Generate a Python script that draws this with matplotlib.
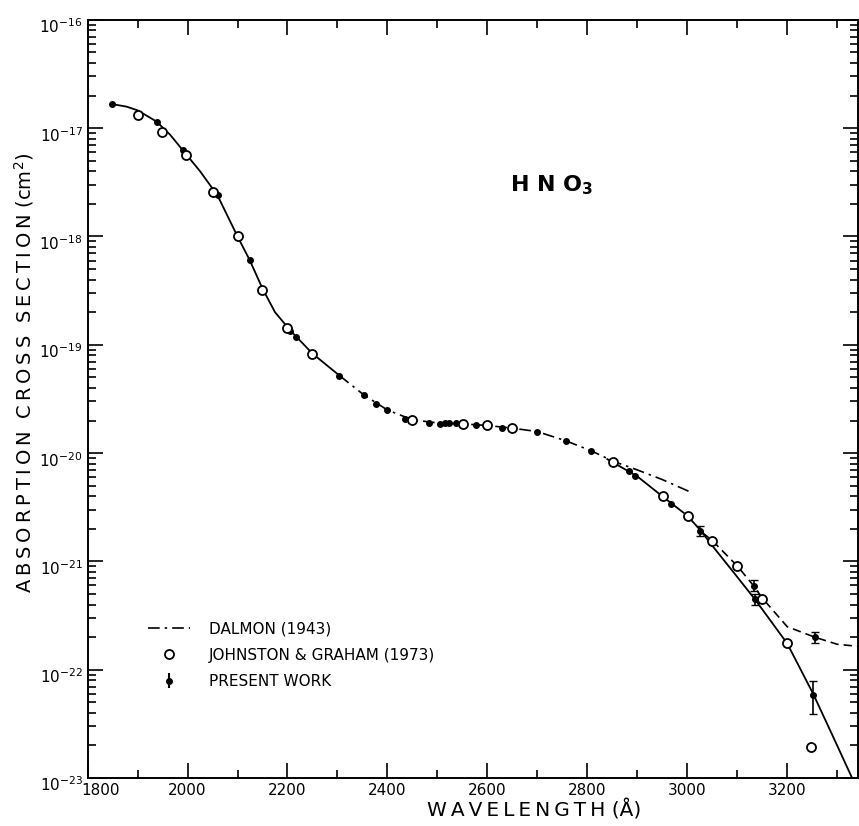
import numpy as np
import matplotlib
matplotlib.use("Agg")
import matplotlib.pyplot as plt
from matplotlib.lines import Line2D
from matplotlib.ticker import MultipleLocator, LogLocator, NullFormatter
from matplotlib.transforms import ScaledTranslation

plt.rcParams["font.family"] = ["DejaVu Sans"]
plt.rcParams["mathtext.default"] = "regular"

# fitted curve through present work (solid), two pieces
fit1_wl = [1848, 1878, 1900, 1938, 1965, 1990, 2025, 2060, 2100, 2124, 2150, 2175, 2206, 2250, 2304]
fit1_xs = [1.67e-17, 1.58e-17, 1.46e-17, 1.15e-17, 8.7e-18, 6.3e-18, 4.0e-18, 2.39e-18, 1.0e-18,
           6.1e-19, 3.3e-19, 2.0e-19, 1.35e-19, 8.3e-20, 5.2e-20]
fit2_wl = [2840, 2900, 2950, 3000, 3026, 3050, 3100, 3135, 3200, 3252, 3300, 3330]
fit2_xs = [8.8e-21, 6.1e-21, 4.0e-21, 2.65e-21, 1.95e-21, 1.4e-21, 7.2e-22, 4.5e-22, 1.75e-22,
           6.0e-23, 2.0e-23, 1.0e-23]

# Dalmon (1943), dash-dot
dalmon_wl = [2304, 2353, 2400, 2450, 2500, 2550, 2600, 2650, 2700, 2757, 2808, 2852, 2900, 2950, 3005]
dalmon_xs = [5.2e-20, 3.44e-20, 2.5e-20, 2.03e-20, 1.9e-20, 1.86e-20, 1.8e-20, 1.7e-20, 1.58e-20,
             1.3e-20, 1.05e-20, 8.4e-21, 7.0e-21, 5.7e-21, 4.4e-21]

# dashed branch at long wavelengths
dash_wl = [3030, 3050, 3100, 3133, 3150, 3200, 3255, 3300, 3345]
dash_xs = [1.85e-21, 1.56e-21, 9.1e-22, 5.95e-22, 4.6e-22, 2.5e-22, 2.0e-22, 1.72e-22, 1.64e-22]

# Johnston & Graham (1973), open circles
jg_wl = [1900, 1948, 1997, 2050, 2100, 2148, 2200, 2250, 2450, 2552, 2600, 2650,
         2852, 2952, 3002, 3050, 3100, 3150, 3200, 3248]
jg_xs = [1.33e-17, 9.3e-18, 5.7e-18, 2.6e-18, 1.0e-18, 3.2e-19, 1.42e-19, 8.2e-20, 2.03e-20,
         1.86e-20, 1.8e-20, 1.7e-20, 8.2e-21, 4.05e-21, 2.6e-21, 1.56e-21, 9.1e-22, 4.5e-22,
         1.75e-22, 1.95e-23]

# present work, filled points
pw_wl = [1848, 1938, 1990, 2060, 2124, 2206, 2217, 2304, 2353, 2378, 2400, 2435, 2484,
         2506, 2515, 2524, 2537, 2577, 2630, 2700, 2757, 2808, 2884, 2895, 2968]
pw_xs = [1.67e-17, 1.15e-17, 6.3e-18, 2.39e-18, 6.1e-19, 1.35e-19, 1.17e-19, 5.2e-20, 3.44e-20,
         2.84e-20, 2.5e-20, 2.07e-20, 1.91e-20, 1.86e-20, 1.9e-20, 1.91e-20, 1.88e-20, 1.82e-20,
         1.72e-20, 1.58e-20, 1.30e-20, 1.05e-20, 6.9e-21, 6.2e-21, 3.4e-21]

# present work with error bars
eb_wl = [3026, 3133, 3135, 3255, 3252]
eb_xs = [1.91e-21, 5.95e-22, 4.5e-22, 2.0e-22, 5.85e-23]
eb_lo = [1.72e-21, 5.3e-22, 4.0e-22, 1.78e-22, 3.9e-23]
eb_hi = [2.12e-21, 6.7e-22, 5.0e-22, 2.25e-22, 7.9e-23]

fig = plt.figure(figsize=(8.59, 8.26), dpi=100)
ax = fig.add_axes([0.102, 0.058, 0.897, 0.918])

ax.plot(fit1_wl, fit1_xs, color="black", lw=1.3)
ax.plot(fit2_wl, fit2_xs, color="black", lw=1.3)
ax.plot(dalmon_wl, dalmon_xs, color="black", lw=1.2, ls=(0, (7, 3, 1.5, 3)))
ax.plot(dash_wl, dash_xs, color="black", lw=1.2, ls=(0, (5, 3)))

ax.plot(pw_wl, pw_xs, "o", color="black", ms=4)
yerr = [np.array(eb_xs) - np.array(eb_lo), np.array(eb_hi) - np.array(eb_xs)]
ax.errorbar(eb_wl, eb_xs, yerr=yerr, fmt="o", color="black", ms=4, capsize=3, elinewidth=1.2)
ax.plot(jg_wl, jg_xs, "o", mfc="white", mec="black", mew=1.3, ms=6.5)

ax.set_yscale("log")
ax.set_xlim(1800, 3342)
ax.set_ylim(1e-23, 1e-16)
ax.xaxis.set_major_locator(MultipleLocator(200))
ax.xaxis.set_minor_locator(MultipleLocator(100))
ax.yaxis.set_major_locator(LogLocator(base=10, numticks=10))
ax.yaxis.set_minor_locator(LogLocator(base=10, subs=np.arange(2, 10), numticks=20))
ax.yaxis.set_minor_formatter(NullFormatter())
ax.tick_params(which="both", direction="in", top=True, right=True, width=1.2)
ax.tick_params(which="major", length=11, labelsize=11)
ax.tick_params(which="minor", length=6)
for s in ax.spines.values():
    s.set_linewidth(1.4)

# nudge tick labels the way they sit in the original
fig.canvas.draw()
down = ScaledTranslation(0, -4 / 72, fig.dpi_scale_trans)
for lab in ax.get_yticklabels():
    lab.set_transform(lab.get_transform() + down)
right = ScaledTranslation(9 / 72, 0, fig.dpi_scale_trans)
for lab in ax.get_xticklabels():
    if lab.get_text() == "1800":
        lab.set_transform(lab.get_transform() + right)


def spaced(s):
    return "\u2009".join(s)


ax.set_xlabel(spaced("WAVELENGTH") + " (Å)", fontsize=14.5)
ax.set_ylabel(spaced("ABSORPTION") + "  " + spaced("CROSS") + "  " + spaced("SECTION") + " (cm$^2$)",
              fontsize=14)
ax.xaxis.set_label_coords(0.58, -0.028)
ax.yaxis.set_label_coords(-0.067, 0.535)

ax.text(2645, 3.0e-18, "H N O$_3$", fontsize=16, fontweight="bold", ha="left", va="center")

handles = [
    Line2D([], [], color="black", lw=1.2, ls=(0, (7, 3, 1.5, 3))),
    Line2D([], [], ls="none", marker="o", mfc="white", mec="black", mew=1.3, ms=6.5),
    ax.errorbar([], [], yerr=[], fmt="o", color="black", ms=4, capsize=3),
]
labels = ["DALMON (1943)", "JOHNSTON & GRAHAM (1973)", "PRESENT WORK"]
ax.legend(handles, labels, loc="upper left", bbox_to_anchor=(0.06, 0.225), frameon=False,
          fontsize=11, handlelength=2.8, labelspacing=0.75, handletextpad=1.2)

fig.savefig("out.png", dpi=100)
